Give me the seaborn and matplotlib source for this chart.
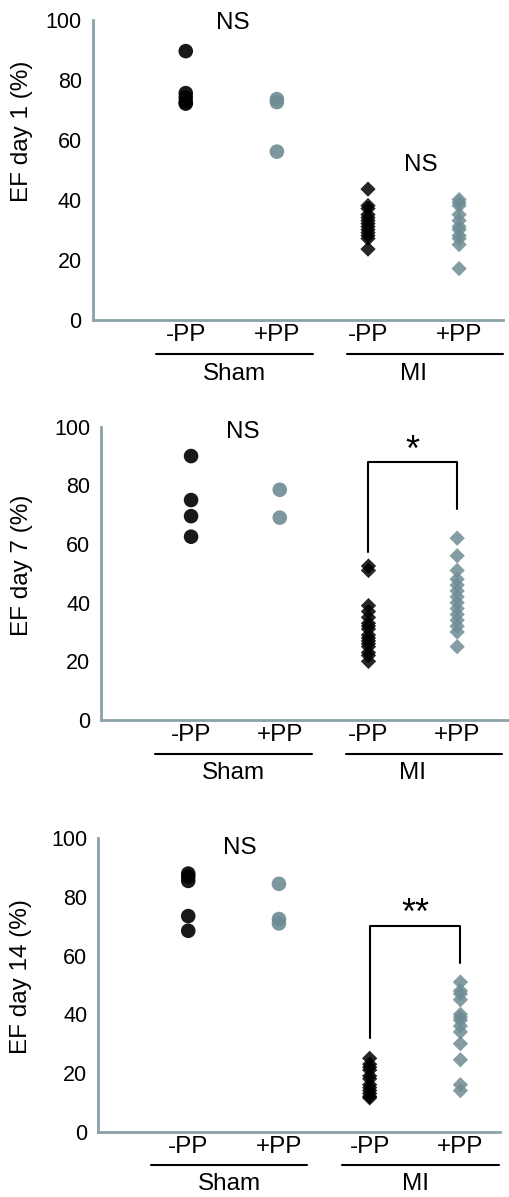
import pandas as pd
import matplotlib.pyplot as plt
import matplotlib.transforms as mtransforms
import seaborn as sns

# data (EF %)
categories = ['Sham -PP', 'Sham +PP', 'MI -PP', 'MI +PP']
tick_labels = ['-PP', '+PP', '-PP', '+PP']

day1_sham_minus = [89.5, 75.5, 74, 72.5, 72]
day1_sham_plus = [73.5, 72.5, 56]
day1_mi_minus = [43.5, 38, 37, 35, 34, 33, 32, 31, 30, 29, 28, 27, 23.5]
day1_mi_plus = [40, 39, 38, 35, 33, 31, 30, 28, 27, 25, 17]

day7_sham_minus = [90, 75, 69.5, 62.5]
day7_sham_plus = [78.5, 69]
day7_mi_minus = [52.5, 51, 39, 37, 35, 33, 32, 31, 29, 28, 27, 26, 25, 23, 22, 20]
day7_mi_plus = [62, 56, 51, 48, 46, 44, 42, 40, 38, 36, 34, 32, 30, 25]

day14_sham_minus = [88, 87, 85.5, 73.5, 68.5]
day14_sham_plus = [84.5, 72.5, 71]
day14_mi_minus = [25, 23, 22, 21, 19, 18, 16, 15, 14, 13, 12, 11.5]
day14_mi_plus = [51, 48, 47, 45, 40, 39, 38, 36, 34, 30, 24.5, 16, 14]

ylabels = ['EF day 1 (%)', 'EF day 7 (%)', 'EF day 14 (%)']

BLACK = '#000000'
GREY = '#6f8c94'
SPINE = '#8aa2a8'


def make_frame(sham_minus, sham_plus, mi_minus, mi_plus):
    rows = []
    for cat, vals in zip(categories, [sham_minus, sham_plus, mi_minus, mi_plus]):
        for v in vals:
            rows.append({'group': cat, 'ef': v,
                         'pp': cat.split()[1], 'model': cat.split()[0]})
    return pd.DataFrame(rows)


panels = [
    make_frame(day1_sham_minus, day1_sham_plus, day1_mi_minus, day1_mi_plus),
    make_frame(day7_sham_minus, day7_sham_plus, day7_mi_minus, day7_mi_plus),
    make_frame(day14_sham_minus, day14_sham_plus, day14_mi_minus, day14_mi_plus),
]

sns.set_style('white')
plt.rcParams['font.family'] = ['Liberation Sans', 'DejaVu Sans']
plt.rcParams['text.color'] = 'black'
plt.rcParams['axes.labelcolor'] = 'black'
plt.rcParams['xtick.color'] = 'black'
plt.rcParams['ytick.color'] = 'black'

fig = plt.figure(figsize=(5.1, 11.97), dpi=100)
# [left, bottom, width, height] per panel
boxes = [[0.182, 0.733, 0.804, 0.2506],
         [0.199, 0.3985, 0.80, 0.245],
         [0.193, 0.0546, 0.788, 0.245]]
xlims = [(-1.02, 3.48), (-1.01, 3.59), (-0.99, 3.44)]
label_pos = [(-0.146, 0.627), (-0.168, 0.528), (-0.165, 0.528)]
sham_line = [(-0.33, 1.40), (-0.41, 1.36), (-0.41, 1.31)]
mi_line = [(1.77, 3.48), (1.75, 3.5), (1.69, 3.43)]
palette = {'-PP': BLACK, '+PP': GREY}
FS = 17.5

for i, df in enumerate(panels):
    ax = fig.add_axes(boxes[i])
    sham = df[df['model'] == 'Sham']
    mi = df[df['model'] == 'MI']
    sns.stripplot(data=sham, x='group', y='ef', hue='pp', order=categories,
                  palette=palette, jitter=False, marker='o', size=10.5,
                  linewidth=0, alpha=0.9, legend=False, ax=ax)
    sns.stripplot(data=mi, x='group', y='ef', hue='pp', order=categories,
                  palette=palette, jitter=False, marker='D', size=7.8,
                  linewidth=0, alpha=0.85, legend=False, ax=ax)

    ax.set_ylim(0, 100)
    ax.set_xlim(*xlims[i])
    ax.set_yticks([0, 20, 40, 60, 80, 100])
    ax.set_xticks(range(4))
    ax.set_xticklabels(tick_labels)
    ax.set_xlabel('')
    ax.set_ylabel(ylabels[i], fontsize=FS)
    ax.yaxis.set_label_coords(*label_pos[i])
    for side in ['top', 'right']:
        ax.spines[side].set_visible(False)
    for side in ['left', 'bottom']:
        ax.spines[side].set_color(SPINE)
        ax.spines[side].set_linewidth(2)
    ax.tick_params(axis='y', direction='in', length=3, width=1.5,
                   color=SPINE, labelcolor='black', labelsize=15.5, pad=8)
    ax.tick_params(axis='x', length=0, labelcolor='black', labelsize=FS, pad=3)

    # group underlines and labels
    trans = mtransforms.blended_transform_factory(ax.transData, ax.transAxes)
    for (x0, x1), name in [(sham_line[i], 'Sham'), (mi_line[i], 'MI')]:
        ax.plot([x0, x1], [-0.115, -0.115], color='black', lw=1.5,
                transform=trans, clip_on=False)
        ax.text((x0 + x1) / 2 if name == 'Sham' else 2.5, -0.18, name,
                transform=trans, ha='center', va='center', fontsize=FS)

# significance marks
ax1, ax2, ax3 = fig.axes
ax1.text(0.52, 99, 'NS', ha='center', va='center', fontsize=FS)
ax1.text(2.58, 51.7, 'NS', ha='center', va='center', fontsize=FS)
ax2.text(0.58, 98.3, 'NS', ha='center', va='center', fontsize=FS)
ax3.text(0.57, 96.6, 'NS', ha='center', va='center', fontsize=FS)

ax2.plot([2, 2, 3, 3], [57.4, 88, 88, 71.8], color='black', lw=1.5)
ax2.text(2.5, 91.5, '*', ha='center', va='center', fontsize=26)
ax3.plot([2, 2, 3, 3], [31.8, 70.2, 70.2, 57.4], color='black', lw=1.5)
ax3.text(2.5, 74, '**', ha='center', va='center', fontsize=26)

fig.savefig('out.png', dpi=100)
